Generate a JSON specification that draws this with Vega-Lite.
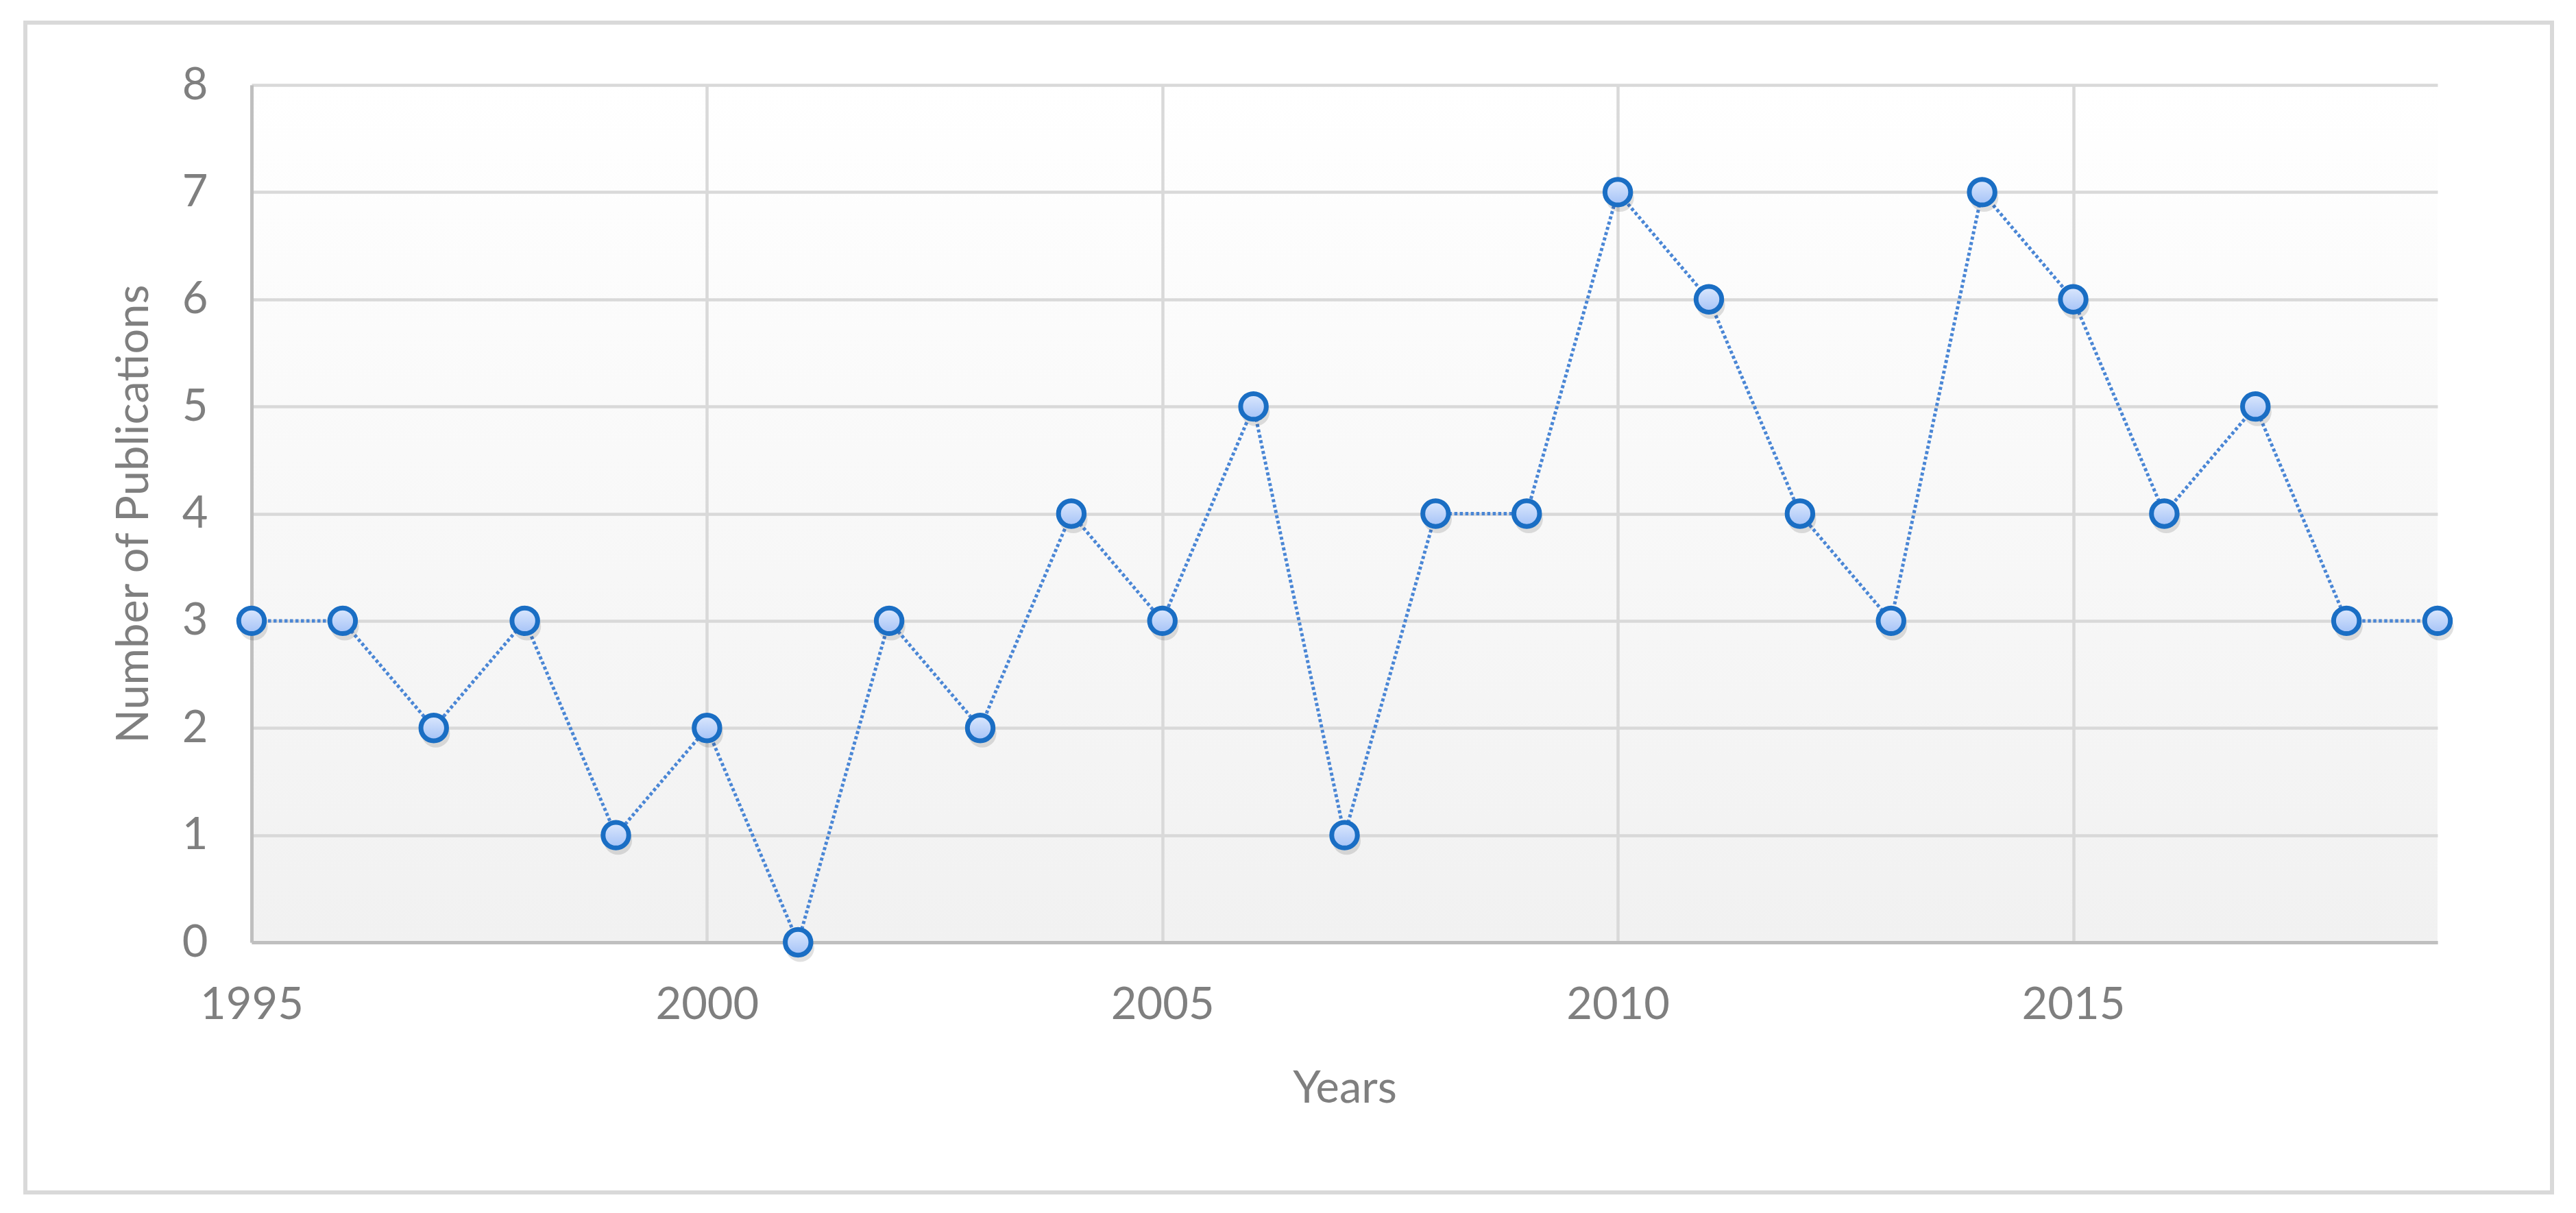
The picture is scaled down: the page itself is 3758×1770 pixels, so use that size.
{
  "$schema": "https://vega.github.io/schema/vega-lite/v6.json",
  "autosize": {"type": "none"},
  "width": 3189,
  "height": 1251,
  "padding": {"left": 367, "top": 124, "right": 202, "bottom": 395},
  "background": "#ffffff",
  "config": {
    "font": "Lato",
    "view": {
      "stroke": null,
      "fill": {"gradient": "linear", "x1": 0, "y1": 0, "x2": 0, "y2": 1,
        "stops": [{"offset": 0, "color": "#ffffff"}, {"offset": 1, "color": "#f1f1f1"}]}
    },
    "axis": {
      "labelColor": "#7f7f7f",
      "titleColor": "#7f7f7f",
      "labelFont": "Lato",
      "titleFont": "Lato",
      "labelFontSize": 65,
      "titleFontSize": 65,
      "titleFontWeight": "normal",
      "gridColor": "#d9d9d9",
      "gridWidth": 4.5,
      "domainColor": "#bfbfbf",
      "domainWidth": 5,
      "ticks": false
    }
  },
  "data": {
    "values": [
      {"year": 1995, "count": 3}, {"year": 1996, "count": 3}, {"year": 1997, "count": 2},
      {"year": 1998, "count": 3}, {"year": 1999, "count": 1}, {"year": 2000, "count": 2},
      {"year": 2001, "count": 0}, {"year": 2002, "count": 3}, {"year": 2003, "count": 2},
      {"year": 2004, "count": 4}, {"year": 2005, "count": 3}, {"year": 2006, "count": 5},
      {"year": 2007, "count": 1}, {"year": 2008, "count": 4}, {"year": 2009, "count": 4},
      {"year": 2010, "count": 7}, {"year": 2011, "count": 6}, {"year": 2012, "count": 4},
      {"year": 2013, "count": 3}, {"year": 2014, "count": 7}, {"year": 2015, "count": 6},
      {"year": 2016, "count": 4}, {"year": 2017, "count": 5}, {"year": 2018, "count": 3},
      {"year": 2019, "count": 3}
    ]
  },
  "encoding": {
    "x": {
      "field": "year", "type": "quantitative",
      "scale": {"domain": [1995, 2019], "nice": false, "zero": false},
      "axis": {"values": [1995, 2000, 2005, 2010, 2015], "format": "d", "title": "Years",
        "labelPadding": 60, "titlePadding": 58, "labelFlush": false}
    },
    "y": {
      "field": "count", "type": "quantitative",
      "scale": {"domain": [0, 8], "nice": false},
      "axis": {"values": [0, 1, 2, 3, 4, 5, 6, 7, 8], "title": "Number of Publications",
        "labelPadding": 64, "titlePadding": 36}
    }
  },
  "layer": [
    {
      "mark": {"type": "rect", "fill": null, "stroke": "#d9d9d9", "strokeWidth": 5, "clip": false},
      "encoding": {
        "x": {"datum": 1992.5165, "type": "quantitative"},
        "x2": {"datum": 2020.2568},
        "y": {"datum": 8.582, "type": "quantitative"},
        "y2": {"datum": -2.334}
      }
    },
    {
      "mark": {"type": "line", "color": "#4a86d5", "strokeWidth": 5, "strokeDash": [4.5, 3.5], "strokeCap": "butt"}
    },
    {
      "mark": {"type": "point", "shape": "circle", "filled": true, "size": 1700, "color": "#000000", "opacity": 0.12, "strokeWidth": 0, "xOffset": 3, "yOffset": 8}
    },
    {
      "mark": {
        "type": "point", "shape": "circle", "filled": true, "size": 1400, "opacity": 1,
        "stroke": "#1a6ec4", "strokeWidth": 7,
        "fill": {"gradient": "linear", "x1": 0, "y1": 0, "x2": 0, "y2": 1,
          "stops": [{"offset": 0, "color": "#dce8fd"}, {"offset": 1, "color": "#a4c2f7"}]}
      }
    }
  ]
}
